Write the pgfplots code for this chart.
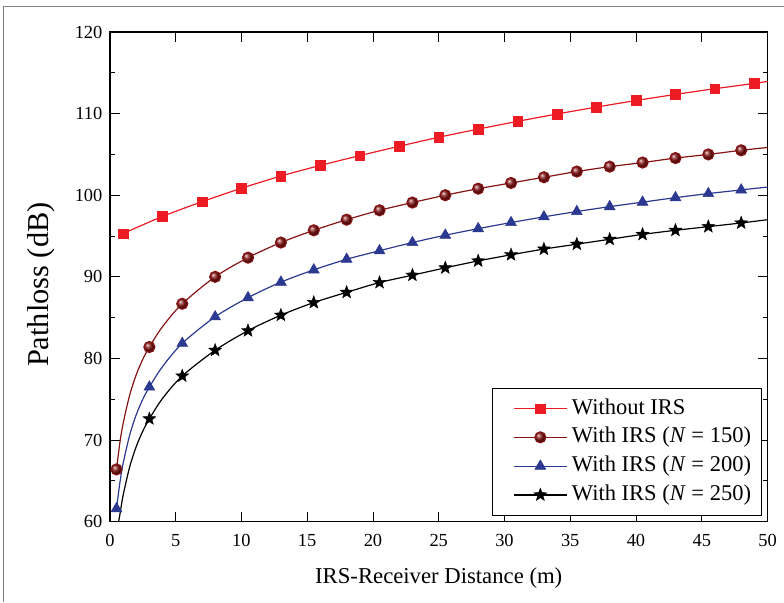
\documentclass[border=0pt]{standalone}
\usepackage{fontspec}
\setmainfont{Liberation Serif}
\usepackage{pgfplots}
\pgfplotsset{compat=1.18}
\definecolor{cred}{RGB}{237,28,36}
\definecolor{cmaroon}{RGB}{135,20,20}
\definecolor{cblue}{RGB}{43,57,144}
\definecolor{cframe}{RGB}{128,128,128}
\pgfdeclareplotmark{fstar}{%
 \pgfpathmoveto{\pgfpointpolar{90}{\pgfplotmarksize}}%
 \pgfpathlineto{\pgfpointpolar{126}{0.42\pgfplotmarksize}}%
 \pgfpathlineto{\pgfpointpolar{162}{\pgfplotmarksize}}%
 \pgfpathlineto{\pgfpointpolar{198}{0.42\pgfplotmarksize}}%
 \pgfpathlineto{\pgfpointpolar{234}{\pgfplotmarksize}}%
 \pgfpathlineto{\pgfpointpolar{270}{0.42\pgfplotmarksize}}%
 \pgfpathlineto{\pgfpointpolar{306}{\pgfplotmarksize}}%
 \pgfpathlineto{\pgfpointpolar{342}{0.42\pgfplotmarksize}}%
 \pgfpathlineto{\pgfpointpolar{18}{\pgfplotmarksize}}%
 \pgfpathlineto{\pgfpointpolar{54}{0.42\pgfplotmarksize}}%
 \pgfpathclose\pgfusepathqfillstroke}
\begin{document}
\begin{tikzpicture}
\begin{axis}[
  name=ax, at={(0,0)}, anchor=south west,
  scale only axis, width=658bp, height=490bp,
  xmin=0, xmax=50, ymin=60, ymax=120,
  xtick={0,5,...,50}, ytick={60,70,...,120},
  minor y tick num=1,
  tick align=inside, major tick length=10bp, minor tick length=5bp,
  tick style={line width=0.9bp, black},
  axis line style={line width=1.2bp},
  /pgf/number format/assume math mode=true,
  ticklabel style={font=\fontsize{18.5}{20}\selectfont},
  xticklabel style={yshift=-9bp},
  yticklabel style={xshift=-4bp},
  xlabel={IRS-Receiver Distance (m)},
  ylabel={Pathloss (dB)},
  xlabel style={font=\fontsize{22.8}{26}\selectfont, at={(axis description cs:0.5,-0.1265)}, anchor=base},
  ylabel style={font=\fontsize{30.5}{34}\selectfont, at={(axis description cs:-0.105,0.484)}, anchor=center},
  legend cell align=left,
  legend style={at={(axis description cs:0.5816,0.012)}, anchor=south west,
    draw=black, line width=0.8bp, font=\fontsize{22.6}{24}\selectfont,
    inner xsep=9bp, inner ysep=9bp, row sep=5.8bp, column sep=4bp,
    nodes={inner sep=1bp, text height=16bp, text depth=5bp}},
  legend image code/.code={\path (0bp,0bp); \draw[mark indices={2}] plot coordinates {(12bp,0bp)(38bp,0bp)(64bp,0bp)};},
  every axis plot/.append style={line width=1.2bp},
]
\addplot[color=cred, smooth, mark=square*, mark size=4.8bp, mark options={line width=0.5bp},
  mark indices={1,2,3,4,5,6,7,8,9,10,11,12,13,14,15,16,17}] table {
x y
1 95.3
4 97.4
7 99.2
10 100.85
13 102.35
16 103.65
19 104.85
22 106.0
25 107.1
28 108.1
31 109.05
34 109.95
37 110.8
40 111.6
43 112.35
46 113.05
49 113.7
50 113.95
};
\addlegendentry{Without IRS}
\addplot[color=cmaroon, smooth, mark=ball, mark size=5.5bp, mark options={ball color=cmaroon},
  mark indices={1,7,9,10,11,12,13,14,15,16,17,18,19,20,21,22,23,24,25,26}] table {
x y
0.5 66.4
0.75 69.6
1 72.0
1.5 75.5
2 78.0
2.5 79.9
3 81.4
4 83.9
5.5 86.7
8 90.0
10.5 92.35
13 94.2
15.5 95.7
18 97.0
20.5 98.15
23 99.1
25.5 100.0
28 100.8
30.5 101.5
33 102.2
35.5 102.9
38 103.5
40.5 104.0
43 104.55
45.5 105.0
48 105.5
50 105.85
};
\addlegendentry{With IRS (\textit{N} = 150)}
\addplot[color=cblue, smooth, mark=triangle*, mark size=6.3bp, mark options={line width=0.5bp},
  mark indices={1,7,9,10,11,12,13,14,15,16,17,18,19,20,21,22,23,24,25,26}] table {
x y
0.5 61.6
0.75 64.7
1 67.1
1.5 70.6
2 73.1
2.5 75.0
3 76.5
4 79.0
5.5 81.85
8 85.1
10.5 87.45
13 89.35
15.5 90.85
18 92.15
20.5 93.2
23 94.2
25.5 95.1
28 95.9
30.5 96.65
33 97.35
35.5 98.0
38 98.6
40.5 99.15
43 99.7
45.5 100.2
48 100.65
50 101.0
};
\addlegendentry{With IRS (\textit{N} = 200)}
\addplot[color=black, smooth, mark=fstar, mark size=6.8bp, mark options={line width=0.4bp, fill=black},
  mark indices={7,9,10,11,12,13,14,15,16,17,18,19,20,21,22,23,24,25,26}] table {
x y
0.66 60.0
0.75 60.8
1 63.2
1.5 66.7
2 69.2
2.5 71.1
3 72.6
4 75.1
5.5 77.85
8 81.0
10.5 83.4
13 85.3
15.5 86.85
18 88.1
20.5 89.3
23 90.2
25.5 91.1
28 91.95
30.5 92.7
33 93.4
35.5 94.0
38 94.6
40.5 95.2
43 95.7
45.5 96.15
48 96.6
50 97.0
};
\addlegendentry{With IRS (\textit{N} = 250)}
\end{axis}
\draw[cframe, line width=1bp] (-106bp,-80bp) -- (-106bp,515bp) -- (674bp,515bp);
\path[use as bounding box] (-110bp,-80bp) rectangle (674bp,522bp);
\end{tikzpicture}
\end{document}
